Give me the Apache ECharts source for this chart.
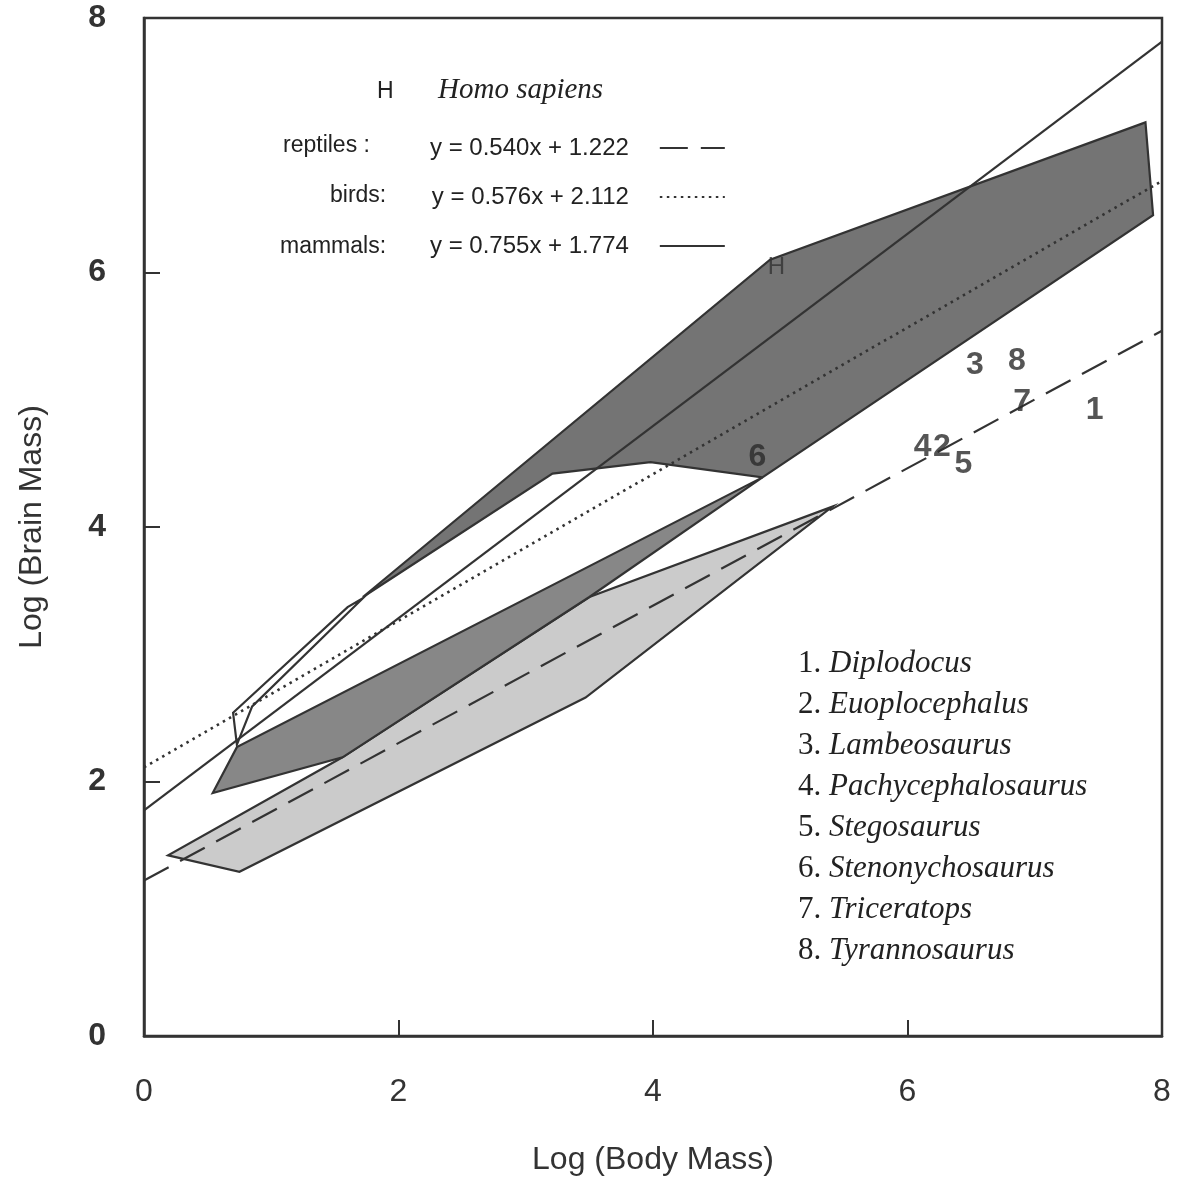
<!DOCTYPE html>
<html>
<head>
<meta charset="utf-8">
<script src="https://cdn.jsdelivr.net/npm/echarts@6/dist/echarts.min.js"></script>
<style>
html,body{margin:0;padding:0;background:#fff;}
#chart{width:1178px;height:1181px;}
</style>
</head>
<body>
<div id="chart"></div>
<script>
// ---- data ----
const xTicks = [0, 2, 4, 6, 8];
const yTicks = [0, 2, 4, 6, 8];

// polygons (log body mass, log brain mass)
const reptilePolygon = [[0.19,1.42],[0.75,1.29],[3.47,2.66],[5.41,4.16],[3.50,3.45],[1.56,2.19]];
const dinoPolygon    = [[0.54,1.91],[0.73,2.27],[4.86,4.39],[3.50,3.45],[1.56,2.19]];
const mammalPolygon  = [[1.72,3.45],[4.92,6.10],[7.87,7.18],[7.93,6.45],[4.86,4.39],[3.98,4.51],[3.21,4.42]];
const openPolygon    = [[0.70,2.54],[1.60,3.37],[1.72,3.44],[0.85,2.59],[0.73,2.29]];

// regression lines (end points at x = 0 and x = 8)
const reptileLine = [[0, 1.222], [8, 5.542]];
const birdLine    = [[0, 2.112], [8, 6.720]];
const mammalLine  = [[0, 1.774], [8, 7.814]];

const lineLabels    = ['reptiles :', 'birds:', 'mammals:'];
const lineEquations = ['y = 0.540x + 1.222', 'y = 0.576x + 2.112', 'y = 0.755x + 1.774'];

// species markers in the plot
const speciesPoints = [
  [7.47, 4.92, '1'],
  [6.27, 4.63, '2'],
  [6.53, 5.27, '3'],
  [6.12, 4.63, '4'],
  [6.44, 4.49, '5'],
  [4.82, 4.55, '6'],
  [6.90, 4.98, '7'],
  [6.86, 5.30, '8']
];
const homoPoint = [[4.97, 6.04, 'H']];
const speciesNames = ['Diplodocus','Euoplocephalus','Lambeosaurus','Pachycephalosaurus',
  'Stegosaurus','Stenonychosaurus','Triceratops','Tyrannosaurus'];

// ---- chart ----
const ink = '#333333';
const sans = "'Liberation Sans', Arial, Helvetica, sans-serif";
const serif = "'Liberation Serif', 'Times New Roman', serif";

function polySeries(name, pts, fill, z) {
  return {
    type: 'custom', name: name, z: z, silent: true,
    data: [[pts[0][0], pts[0][1]]],
    renderItem: function (params, api) {
      const points = pts.map(p => api.coord(p));
      return {
        type: 'polygon',
        shape: { points: points },
        style: { fill: fill, stroke: ink, lineWidth: 2.2, lineJoin: 'miter' }
      };
    }
  };
}

const chart = echarts.init(document.getElementById('chart'), null, {renderer: 'canvas'});

const listLines = speciesNames.map((n, i) => '{n|' + (i + 1) + '. }{s|' + n + '}').join('\n');

chart.setOption({
  backgroundColor: '#ffffff',
  animation: false,
  grid: { left: 144, top: 18, width: 1018, height: 1018, show: true, borderColor: ink, borderWidth: 2.5, backgroundColor: 'transparent' },
  xAxis: {
    type: 'value', min: xTicks[0], max: xTicks[xTicks.length - 1], interval: 2,
    name: 'Log (Body Mass)', nameLocation: 'middle', nameGap: 108,
    nameTextStyle: { fontSize: 32, fontFamily: sans, color: ink },
    axisLine: { show: true, lineStyle: { color: ink, width: 2.5 } },
    axisTick: { show: true, inside: true, length: 16, lineStyle: { color: ink, width: 2 } },
    axisLabel: { fontSize: 32, fontFamily: sans, color: ink, margin: 40, showMinLabel: true, showMaxLabel: true },
    splitLine: { show: false }
  },
  yAxis: {
    type: 'value', min: yTicks[0], max: yTicks[yTicks.length - 1], interval: 2,
    name: 'Log (Brain Mass)', nameLocation: 'middle', nameGap: 96, nameRotate: 90,
    nameTextStyle: { fontSize: 32, fontFamily: sans, color: ink },
    axisLine: { show: true, lineStyle: { color: ink, width: 2.5 } },
    axisTick: { show: true, inside: true, length: 16, lineStyle: { color: ink, width: 2 } },
    axisLabel: { fontSize: 32, fontFamily: sans, color: ink, margin: 38, fontWeight: 'bold' },
    splitLine: { show: false }
  },
  legend: {
    left: 425, top: 131, orient: 'vertical', align: 'right', selectedMode: false,
    itemWidth: 65, itemHeight: 14, itemGap: 25,
    data: lineEquations,
    itemStyle: { color: 'rgba(0,0,0,0)', borderWidth: 0, opacity: 0 },
    textStyle: { fontSize: 24, fontFamily: sans, color: '#222', padding: [0, 26, 0, 0] }
  },
  graphic: [
    { type: 'text', left: 377, top: 80, style: { text: 'H', fontSize: 23, fontFamily: sans, fill: '#222' } },
    { type: 'text', left: 438, top: 76, style: { text: 'Homo sapiens', fontSize: 29, fontStyle: 'italic', fontFamily: serif, fill: '#222' } },
    { type: 'text', left: 283, top: 134, style: { text: lineLabels[0], fontSize: 23, fontFamily: sans, fill: '#222' } },
    { type: 'text', left: 330, top: 184, style: { text: lineLabels[1], fontSize: 23, fontFamily: sans, fill: '#222' } },
    { type: 'text', left: 280, top: 235, style: { text: lineLabels[2], fontSize: 23, fontFamily: sans, fill: '#222' } },
    { type: 'text', left: 798, top: 643, style: {
        text: listLines, fontFamily: serif, fill: '#222', lineHeight: 41,
        rich: {
          n: { fontSize: 31, fontFamily: serif, fill: '#222', lineHeight: 41 },
          s: { fontSize: 31, fontFamily: serif, fontStyle: 'italic', fill: '#222', lineHeight: 41 }
        }
    } }
  ],
  series: [
    polySeries('reptile area', reptilePolygon, '#cbcbcb', 1),
    polySeries('dinosaur area', dinoPolygon, '#878787', 2),
    polySeries('mammal area', mammalPolygon, '#747474', 3),
    polySeries('open area', openPolygon, 'rgba(0,0,0,0)', 4),
    {
      type: 'line', name: lineEquations[0], data: reptileLine, symbol: 'none', z: 10, silent: true,
      lineStyle: { color: ink, width: 2.2, type: [28, 13] }, itemStyle: { color: ink }
    },
    {
      type: 'line', name: lineEquations[1], data: birdLine, symbol: 'none', z: 10, silent: true,
      lineStyle: { color: ink, width: 2.6, type: [2.5, 4.5] }, itemStyle: { color: ink }
    },
    {
      type: 'line', name: lineEquations[2], data: mammalLine, symbol: 'none', z: 10, silent: true,
      lineStyle: { color: ink, width: 2.2, type: 'solid' }, itemStyle: { color: ink }
    },
    {
      type: 'scatter', name: 'species', data: speciesPoints, symbolSize: 0, z: 12, silent: true,
      label: { show: true, position: 'inside', formatter: p => p.value[2], fontSize: 32, fontWeight: 'bold',
        fontFamily: "'Liberation Sans Narrow', 'Liberation Sans', Arial, sans-serif", color: '#2a2a2a' }
    },
    {
      type: 'scatter', name: 'Homo sapiens', data: homoPoint, symbolSize: 0, z: 12, silent: true,
      label: { show: true, position: 'inside', formatter: p => p.value[2], fontSize: 24,
        fontFamily: sans, color: '#333' }
    }
  ]
});
</script>
</body>
</html>
